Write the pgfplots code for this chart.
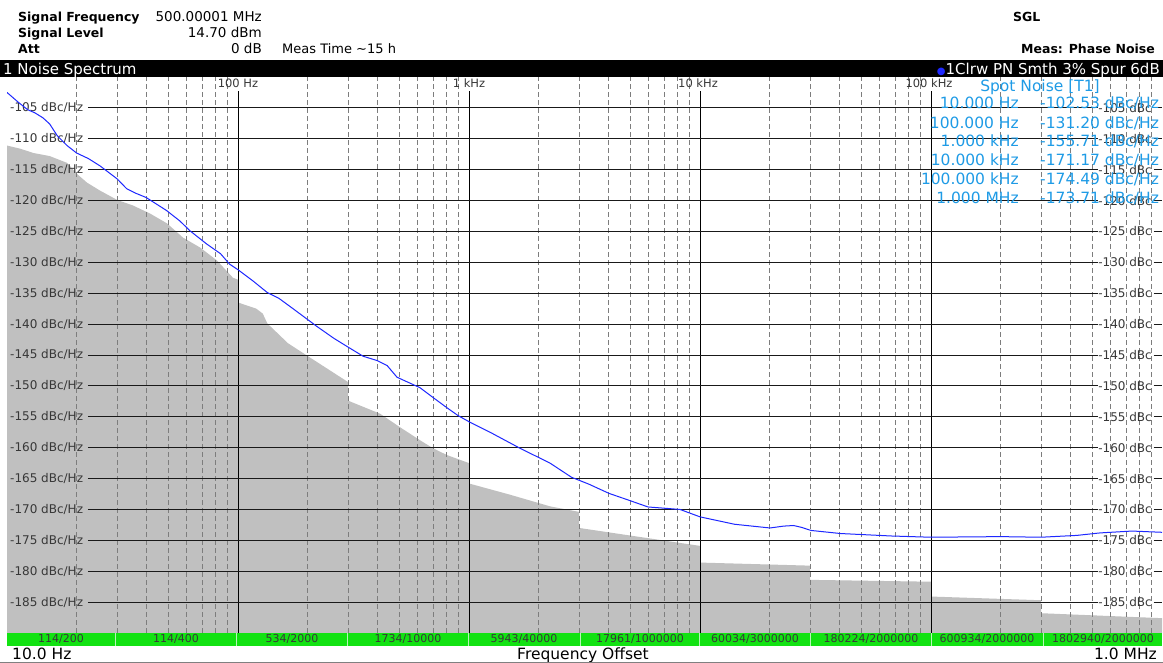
\documentclass[border=0pt]{standalone}
\usepackage{fontspec}
\setmainfont{DejaVu Sans}
\usepackage{pgfplots}
\pgfplotsset{compat=1.18}
\definecolor{noisegray}{RGB}{192,192,192}
\definecolor{trace}{RGB}{30,40,255}
\definecolor{spot}{RGB}{30,155,230}
\definecolor{barg}{RGB}{18,226,18}
\definecolor{lab}{RGB}{55,55,55}
\definecolor{hgrid}{RGB}{25,25,25}
\definecolor{vgrid}{RGB}{125,125,125}
\newcommand{\fs}[1]{\fontsize{#1}{#1}\selectfont}
\begin{document}
\begin{tikzpicture}[x=1pt,y=1pt]
\fill[white] (0,0) rectangle (1163,663);
\path[use as bounding box] (0,0) rectangle (1163,663);
% header
\node[anchor=base west,inner sep=0,font=\fs{12.5}\bfseries] at (18,641) {Signal Frequency};
\node[anchor=base east,inner sep=0,font=\fs{13.5}] at (262,641) {500.00001 MHz};
\node[anchor=base west,inner sep=0,font=\fs{12.5}\bfseries] at (18,625.5) {Signal Level};
\node[anchor=base east,inner sep=0,font=\fs{13.5}] at (262,625.5) {14.70 dBm};
\node[anchor=base west,inner sep=0,font=\fs{12.5}\bfseries] at (18,609.5) {Att};
\node[anchor=base east,inner sep=0,font=\fs{13.5}] at (262,609.5) {0 dB};
\node[anchor=base west,inner sep=0,font=\fs{13}] at (282,609.5) {Meas Time \textasciitilde15 h};
\node[anchor=base west,inner sep=0,font=\fs{12.5}\bfseries] at (1013,641) {SGL};
\node[anchor=base east,inner sep=0,font=\fs{12.5}\bfseries] at (1155,609.5) {Meas: Phase Noise};
% black title bar
\fill[black] (0,586) rectangle (1163,603);
\node[anchor=base west,inner sep=0,text=white,font=\fs{15}] at (3,588.5) {1 Noise Spectrum};
\node[anchor=base east,inner sep=0,text=white,font=\fs{15}] at (1160,588.5) {{\color{trace}\fs{10}●}1Clrw PN Smth 3\% Spur 6dB};
% green bar
\fill[barg] (7,17) rectangle (1162,31);
\foreach \xx in {115,236,347,468,580,699,810,931,1043} {\draw[white!70!barg,line width=0.8pt] (\xx,17) -- (\xx,31);}
\foreach \xx/\tt in {61/114\slash 200,176/114\slash 400,292/534\slash 2000,408/1734\slash 10000,524/5943\slash 40000,640/17961\slash 1000000,755/60034\slash 3000000,871/180224\slash 2000000,987/600934\slash 2000000,1103/1802940\slash 2000000}
  {\node[anchor=base,inner sep=0,text=lab,font=\fs{11}] at (\xx,20) {\tt};}
% bottom text
\node[anchor=base west,inner sep=0,font=\fs{15.5}] at (12,3.5) {10.0 Hz};
\node[anchor=base,inner sep=0,font=\fs{15.5}] at (583,3.5) {Frequency Offset};
\node[anchor=base east,inner sep=0,font=\fs{15.5}] at (1157,3.5) {1.0 MHz};
\draw[gray,line width=0.8pt] (0,0.5) -- (1163,0.5);
\begin{axis}[at={(7pt,30pt)}, anchor=south west, width=1155pt, height=556pt, scale only axis,
  xmode=log, xmin=10, xmax=1000000, ymin=-190, ymax=-100, axis lines=none, clip mode=individual]
\addplot[fill=noisegray, draw=none] coordinates {
(10,-111.1) (11.4,-111.6) (13,-112.3) (15.3,-112.8) (18.2,-113.9) (20.1,-115.7) (22.2,-117.1) (25.3,-118.4) (30,-119.9)
(35.1,-120.8) (41.6,-122.1) (49.3,-123.7) (57.8,-126.0) (68.5,-127.6) (81.1,-129.7) (95.1,-132.5) (100,-132.8)
(100,-136.5) (120,-137.5) (128,-138.3) (134,-139.9) (164.6,-143.1) (199,-145.1) (300,-149.4)
(300,-152.4) (412,-154.5) (503,-156.7) (614,-158.8) (699,-160.1) (803,-161.2) (1000,-162.5)
(1000,-165.8) (1500,-167.6) (2242,-169.5) (3000,-170.4)
(3000,-173.0) (10000,-175.9)
(10000,-178.6) (30000,-179.1)
(30000,-181.4) (100000,-181.7)
(100000,-184.1) (300000,-184.7)
(300000,-186.8) (1000000,-187.6)
(1000000,-190) (10,-190)} -- cycle;
\pgfplotsinvokeforeach{20,30,40,50,60,70,80,90,200,300,400,500,600,700,800,900,2000,3000,4000,5000,6000,7000,8000,9000,20000,30000,40000,50000,60000,70000,80000,90000,200000,300000,400000,500000,600000,700000,800000,900000}
  {\draw[vgrid, line width=0.7pt, dash pattern=on 5pt off 3pt] (axis cs:#1,-190) -- (axis cs:#1,-100);}
\pgfplotsinvokeforeach{100,1000,10000,100000}
  {\draw[black, line width=0.9pt] (axis cs:#1,-190) -- (axis cs:#1,-102.2);}
\pgfplotsinvokeforeach{-105,-110,-115,-120,-125,-130,-135,-140,-145,-150,-155,-160,-165,-170,-175,-180,-185}
  {\draw[hgrid, line width=0.9pt] (axis cs:22.4,#1) -- (axis cs:528000,#1);
   \draw[hgrid, line width=0.9pt] (axis cs:920000,#1) -- (axis cs:1000000,#1);
   \node[anchor=west,inner sep=0,text=lab,font=\fs{12}] at ([xshift=3pt]axis cs:10,#1) {#1 dBc/Hz};
   \node[anchor=east,inner sep=0,text=lab,font=\fs{12}] at (axis cs:905000,#1) {#1 dBc};}
\addplot[trace, line width=1pt] coordinates {
(10,-102.5) (11.2,-104.1) (12.3,-105.3) (13.2,-105.8) (14.3,-106.6) (15.3,-107.6) (16.5,-109.5) (18.2,-111.1) (20,-112.3)
(22.5,-113.2) (25.3,-114.4) (30,-116.5) (33,-118.1) (36,-118.8) (40,-119.5) (49,-121.6) (56,-123.3) (62,-124.9)
(73,-127.0) (84,-128.6) (92,-130.3) (100,-131.2) (116,-133.0) (134,-134.9) (150,-135.8) (173,-137.5) (220,-140.4)
(260,-142.3) (296,-143.6) (348,-145.2) (400,-145.9) (442,-146.7) (488,-148.6) (614,-150.3) (700,-151.9) (800,-153.5)
(896,-154.8) (1000,-155.8) (1233,-157.5) (1663,-160.1) (2242,-162.5) (2781,-164.8) (3300,-165.9) (4037,-167.4)
(5000,-168.6) (5956,-169.6) (7000,-169.8) (8190,-170.0) (10000,-171.2) (14110,-172.4) (20090,-173.0) (23000,-172.7)
(25400,-172.6) (27500,-172.9) (30230,-173.4) (40620,-173.9) (67600,-174.3) (100000,-174.5) (200000,-174.4)
(299200,-174.5) (428500,-174.2) (539500,-173.8) (741300,-173.5) (1000000,-173.7)};
\node[anchor=base,inner sep=0,text=lab,font=\fs{11.5}] at ([yshift=-11pt]axis cs:100,-100) {100 Hz};
\node[anchor=base,inner sep=0,text=lab,font=\fs{11.5}] at ([yshift=-11pt]axis cs:1000,-100) {1 kHz};
\node[anchor=base,inner sep=0,text=lab,font=\fs{11.5}] at ([yshift=-11pt,xshift=-2pt]axis cs:10000,-100) {10 kHz};
\node[anchor=base,inner sep=0,text=lab,font=\fs{11.5}] at ([yshift=-11pt,xshift=-2pt]axis cs:100000,-100) {100 kHz};
\end{axis}
% spot noise table
\begin{scope}[every node/.style={inner sep=0,text=spot,font=\fs{15.5}}]
\node[anchor=base] at (1040,571) {Spot Noise [T1]};
\foreach \yy/\ff/\vv in {554/10.000 Hz/-102.53,534.5/100.000 Hz/-131.20,516/1.000 kHz/-155.71,497/10.000 kHz/-171.17,478/100.000 kHz/-174.49,459/1.000 MHz/-173.71}
 {\node[anchor=base east] at (1019,\yy) {\ff};
  \node[anchor=base west] at (1040,\yy) {\vv\ dBc/Hz};}
\end{scope}
\end{tikzpicture}
\end{document}
